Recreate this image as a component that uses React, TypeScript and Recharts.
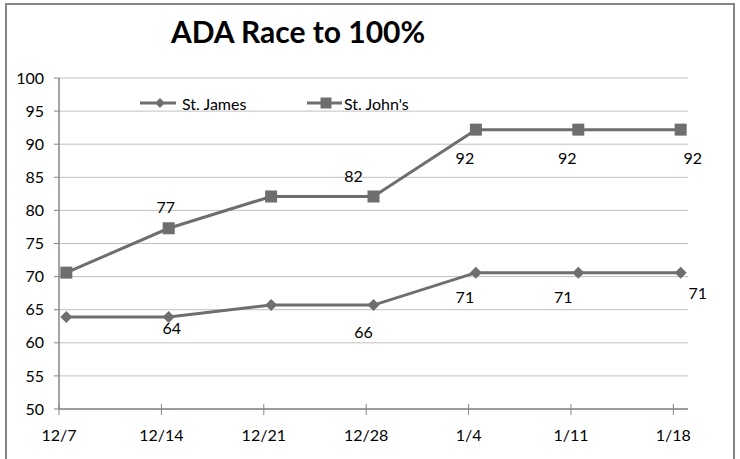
import React from 'react';
import { LineChart, Line, XAxis, YAxis, CartesianGrid, Legend, LabelList } from 'recharts';

// weekly snapshots, x in days since 12/7
const weeks = ['12/7', '12/14', '12/21', '12/28', '1/4', '1/11', '1/18'];
const weekDays = [0, 7, 14, 21, 28, 35, 42];
const sampleDays = [0.5, 7.5, 14.5, 21.5, 28.5, 35.5, 42.5];
const yTicks = [50, 55, 60, 65, 70, 75, 80, 85, 90, 95, 100];

const stJames = [63.9, 63.9, 65.7, 65.7, 70.6, 70.6, 70.6];
const stJohns = [70.6, 77.3, 82.1, 82.1, 92.2, 92.2, 92.2];
const jamesShowLabel = [false, true, false, true, true, true, true];
const johnsShowLabel = [false, true, false, true, true, true, true];

// manual label placement (dx, dy from the point)
const jamesLabelOffset = [[0, 0], [3, 11], [0, 0], [-10, 26], [-11, 24], [-15, 24], [17, 20]];
const johnsLabelOffset = [[0, 0], [-3, -22], [0, 0], [-20, -21], [-11, 28], [-11, 28], [12, 28]];

const LINE = '#6e6e6e';
const AXIS = '#868686';
const GRID = '#c0c0c0';
const FONT = 'Lato, "Open Sans", sans-serif';

const rows = sampleDays.map((d, i) => ({ day: d, james: stJames[i], johns: stJohns[i] }));

const Diamond = ({ cx, cy, r = 6 }: any) => (
  <path d={`M${cx},${cy - r}L${cx + r},${cy}L${cx},${cy + r}L${cx - r},${cy}Z`} fill={LINE} />
);
const Square = ({ cx, cy, s = 12 }: any) => (
  <rect x={cx - s / 2} y={cy - s / 2} width={s} height={s} fill={LINE} />
);

const makeLabel = (show: boolean[], offs: number[][]) => (props: any) => {
  const { x, y, index, value } = props;
  if (!show[index]) return null;
  return (
    <text
      x={x + offs[index][0]}
      y={y + offs[index][1]}
      textAnchor="middle"
      dominantBaseline="central"
      fontSize={16}
      fontFamily={FONT}
      fill="#000"
    >
      {Math.round(value)}
    </text>
  );
};

const XTick = ({ x, y, payload }: any) => (
  <g>
    <line x1={x} x2={x} y1={y - 5} y2={y + 6} stroke={AXIS} />
    <text x={x} y={y + 25} textAnchor="middle" dominantBaseline="central" fontSize={16} fontFamily={FONT} fill="#000">
      {weeks[weekDays.indexOf(payload.value)]}
    </text>
  </g>
);

const renderLegend = () => (
  <svg width={300} height={20} style={{ display: 'block' }}>
    <line x1={0} x2={36} y1={10} y2={10} stroke={LINE} strokeWidth={3} />
    <Diamond cx={20} cy={10} r={5} />
    <text x={42} y={10} dominantBaseline="central" fontSize={16} fontFamily={FONT} fill="#000">St. James</text>
    <line x1={167} x2={202} y1={10} y2={10} stroke={LINE} strokeWidth={3} />
    <Square cx={186} cy={10} s={11} />
    <text x={204} y={10} dominantBaseline="central" fontSize={16} fontFamily={FONT} fill="#000">St. John's</text>
  </svg>
);

export default function App() {
  return (
    <div style={{ position: 'absolute', left: 0, top: 0, width: 740, height: 459, background: '#fff', overflow: 'hidden' }}>
      <div style={{ position: 'absolute', left: 5, top: 3, width: 726, height: 470, border: `2px solid ${AXIS}` }} />
      <div
        style={{
          position: 'absolute', left: 0, width: 596, top: 13, textAlign: 'center',
          fontFamily: FONT, fontWeight: 'bold', fontSize: 30, lineHeight: '36px', color: '#000',
        }}
      >
        ADA Race to 100%
      </div>
      <LineChart width={740} height={459} data={rows} margin={{ top: 78, right: 52, bottom: 0, left: 0 }}>
        <CartesianGrid vertical={false} stroke={GRID} />
        <XAxis
          type="number"
          dataKey="day"
          domain={[0, 43]}
          ticks={weekDays}
          height={50}
          tickLine={false}
          tickSize={0}
          tickMargin={0}
          axisLine={{ stroke: AXIS, strokeWidth: 1.5 }}
          tick={<XTick />}
        />
        <YAxis
          domain={[50, 100]}
          ticks={yTicks}
          width={59}
          tickSize={5}
          tickMargin={10}
          axisLine={{ stroke: AXIS, strokeWidth: 1.5 }}
          tickLine={{ stroke: AXIS }}
          tick={{ fontSize: 16, fontFamily: FONT, fill: '#000' }}
        />
        <Legend
          layout="horizontal"
          verticalAlign="middle"
          align="center"
          content={renderLegend}
          wrapperStyle={{ left: 140, top: 93, width: 300 }}
        />
        <Line
          dataKey="james"
          name="St. James"
          stroke={LINE}
          strokeWidth={3}
          isAnimationActive={false}
          dot={(p: any) => <Diamond key={p.index} cx={p.cx} cy={p.cy} r={6} />}
          activeDot={false}
        >
          <LabelList dataKey="james" content={makeLabel(jamesShowLabel, jamesLabelOffset)} />
        </Line>
        <Line
          dataKey="johns"
          name="St. John's"
          stroke={LINE}
          strokeWidth={3}
          isAnimationActive={false}
          dot={(p: any) => <Square key={p.index} cx={p.cx} cy={p.cy} s={12} />}
          activeDot={false}
        >
          <LabelList dataKey="johns" content={makeLabel(johnsShowLabel, johnsLabelOffset)} />
        </Line>
      </LineChart>
    </div>
  );
}
